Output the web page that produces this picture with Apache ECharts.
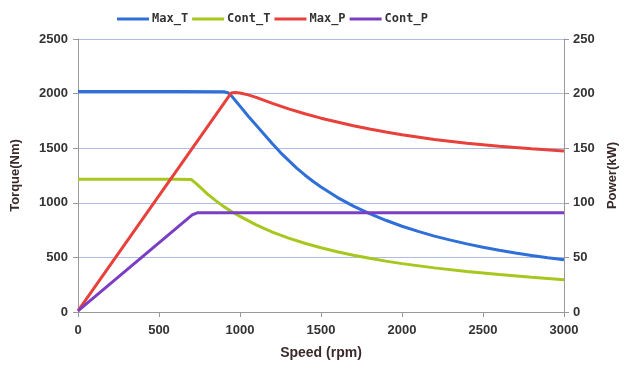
<!DOCTYPE html>
<html><head><meta charset="utf-8">
<script src="https://cdn.jsdelivr.net/npm/echarts@6/dist/echarts.min.js"></script>
<style>html,body{margin:0;padding:0;background:#fff}#c{width:628px;height:368px}</style>
</head><body><div id="c"></div>
<script>
// Data (speed rpm, value)
const maxT = [[0,2020],[300,2020],[600,2020],[900,2018],[925,2008],[950,1975],[975,1930],[1000,1885],[1050,1795],[1100,1710],[1150,1625],[1200,1540],[1250,1460],[1300,1388],[1350,1318],[1400,1255],[1450,1197],[1500,1145],[1600,1050],[1700,970],[1800,900],[1900,840],[2000,785],[2100,738],[2200,695],[2300,658],[2400,624],[2500,593],[2600,565],[2700,540],[2800,517],[2900,497],[3000,478]];
const contT = [[0,1215],[300,1215],[600,1215],[700,1213],[730,1175],[760,1135],[800,1080],[850,1020],[900,965],[950,918],[1000,875],[1100,798],[1200,732],[1300,677],[1400,630],[1500,588],[1600,552],[1700,520],[1800,492],[1900,466],[2000,443],[2200,404],[2400,371],[2600,343],[2800,318],[3000,296]];
const maxP = [[0,1],[945,200.5],[970,201],[1000,200.5],[1050,198.8],[1100,196.5],[1200,191],[1300,186],[1400,181.5],[1500,177.5],[1600,174],[1700,170.5],[1800,167.5],[1900,164.8],[2000,162.3],[2200,158],[2400,154.5],[2600,151.7],[2800,149.5],[3000,147.5]];
const contP = [[0,1],[705,89],[740,91],[1000,91],[1500,91],[2000,91],[2500,91],[3000,91]];
const seriesNames = ['Max_T','Cont_T','Max_P','Cont_P'];
const colors = ['#2e6fd8','#a6c81e','#e8403a','#7a3ec4'];

const chart = echarts.init(document.getElementById('c'));
const font = 'Liberation Sans';
const gridColor = '#adbde6';
const lab = {color:'#333', fontFamily:font, fontWeight:'bold', fontSize:13, formatter:v=>String(v)};
chart.setOption({
  animation:false,
  color: colors,
  legend:{top:8, left:112, itemWidth:32, itemHeight:3, itemGap:4,
    icon:'rect',
    textStyle:{fontFamily:'DejaVu Sans Mono', fontWeight:'bold', fontSize:12, color:'#333', padding:[0,0,0,-2]},
    data: seriesNames},
  grid:{left:78, right:64, top:39, bottom:56},
  xAxis:{type:'value', min:0, max:3000, interval:500,
    name:'Speed (rpm)', nameLocation:'middle', nameGap:34,
    nameTextStyle:{color:'#3a2a2a', fontFamily:font, fontWeight:'bold', fontSize:14},
    axisLine:{lineStyle:{color:'#999'}}, axisTick:{lineStyle:{color:'#999'}, length:5},
    axisLabel:Object.assign({margin:12}, lab), splitLine:{show:false}},
  yAxis:[
    {type:'value', min:0, max:2500, interval:500, position:'left',
      name:'Torque(Nm)', nameLocation:'middle', nameGap:56, nameRotate:90,
      nameTextStyle:{color:'#3a2a2a', fontFamily:font, fontWeight:'bold', fontSize:13},
      axisLine:{show:true, lineStyle:{color:'#999'}}, axisTick:{show:true, lineStyle:{color:'#999'}, length:5},
      axisLabel:Object.assign({margin:10}, lab),
      splitLine:{lineStyle:{color:gridColor, width:1}}},
    {type:'value', min:0, max:250, interval:50, position:'right',
      name:'Power(kW)', nameLocation:'middle', nameGap:42, nameRotate:90,
      nameTextStyle:{color:'#3a2a2a', fontFamily:font, fontWeight:'bold', fontSize:13},
      axisLine:{show:true, lineStyle:{color:'#999'}}, axisTick:{show:true, lineStyle:{color:'#999'}, length:5},
      axisLabel:Object.assign({margin:9}, lab),
      splitLine:{show:false}}
  ],
  series:[
    {name:'Max_T', type:'line', yAxisIndex:0, data:maxT, showSymbol:false, lineStyle:{width:3}},
    {name:'Cont_T', type:'line', yAxisIndex:0, data:contT, showSymbol:false, lineStyle:{width:3}},
    {name:'Max_P', type:'line', yAxisIndex:1, data:maxP, showSymbol:false, lineStyle:{width:3}},
    {name:'Cont_P', type:'line', yAxisIndex:1, data:contP, showSymbol:false, lineStyle:{width:3}}
  ]
});
</script></body></html>
